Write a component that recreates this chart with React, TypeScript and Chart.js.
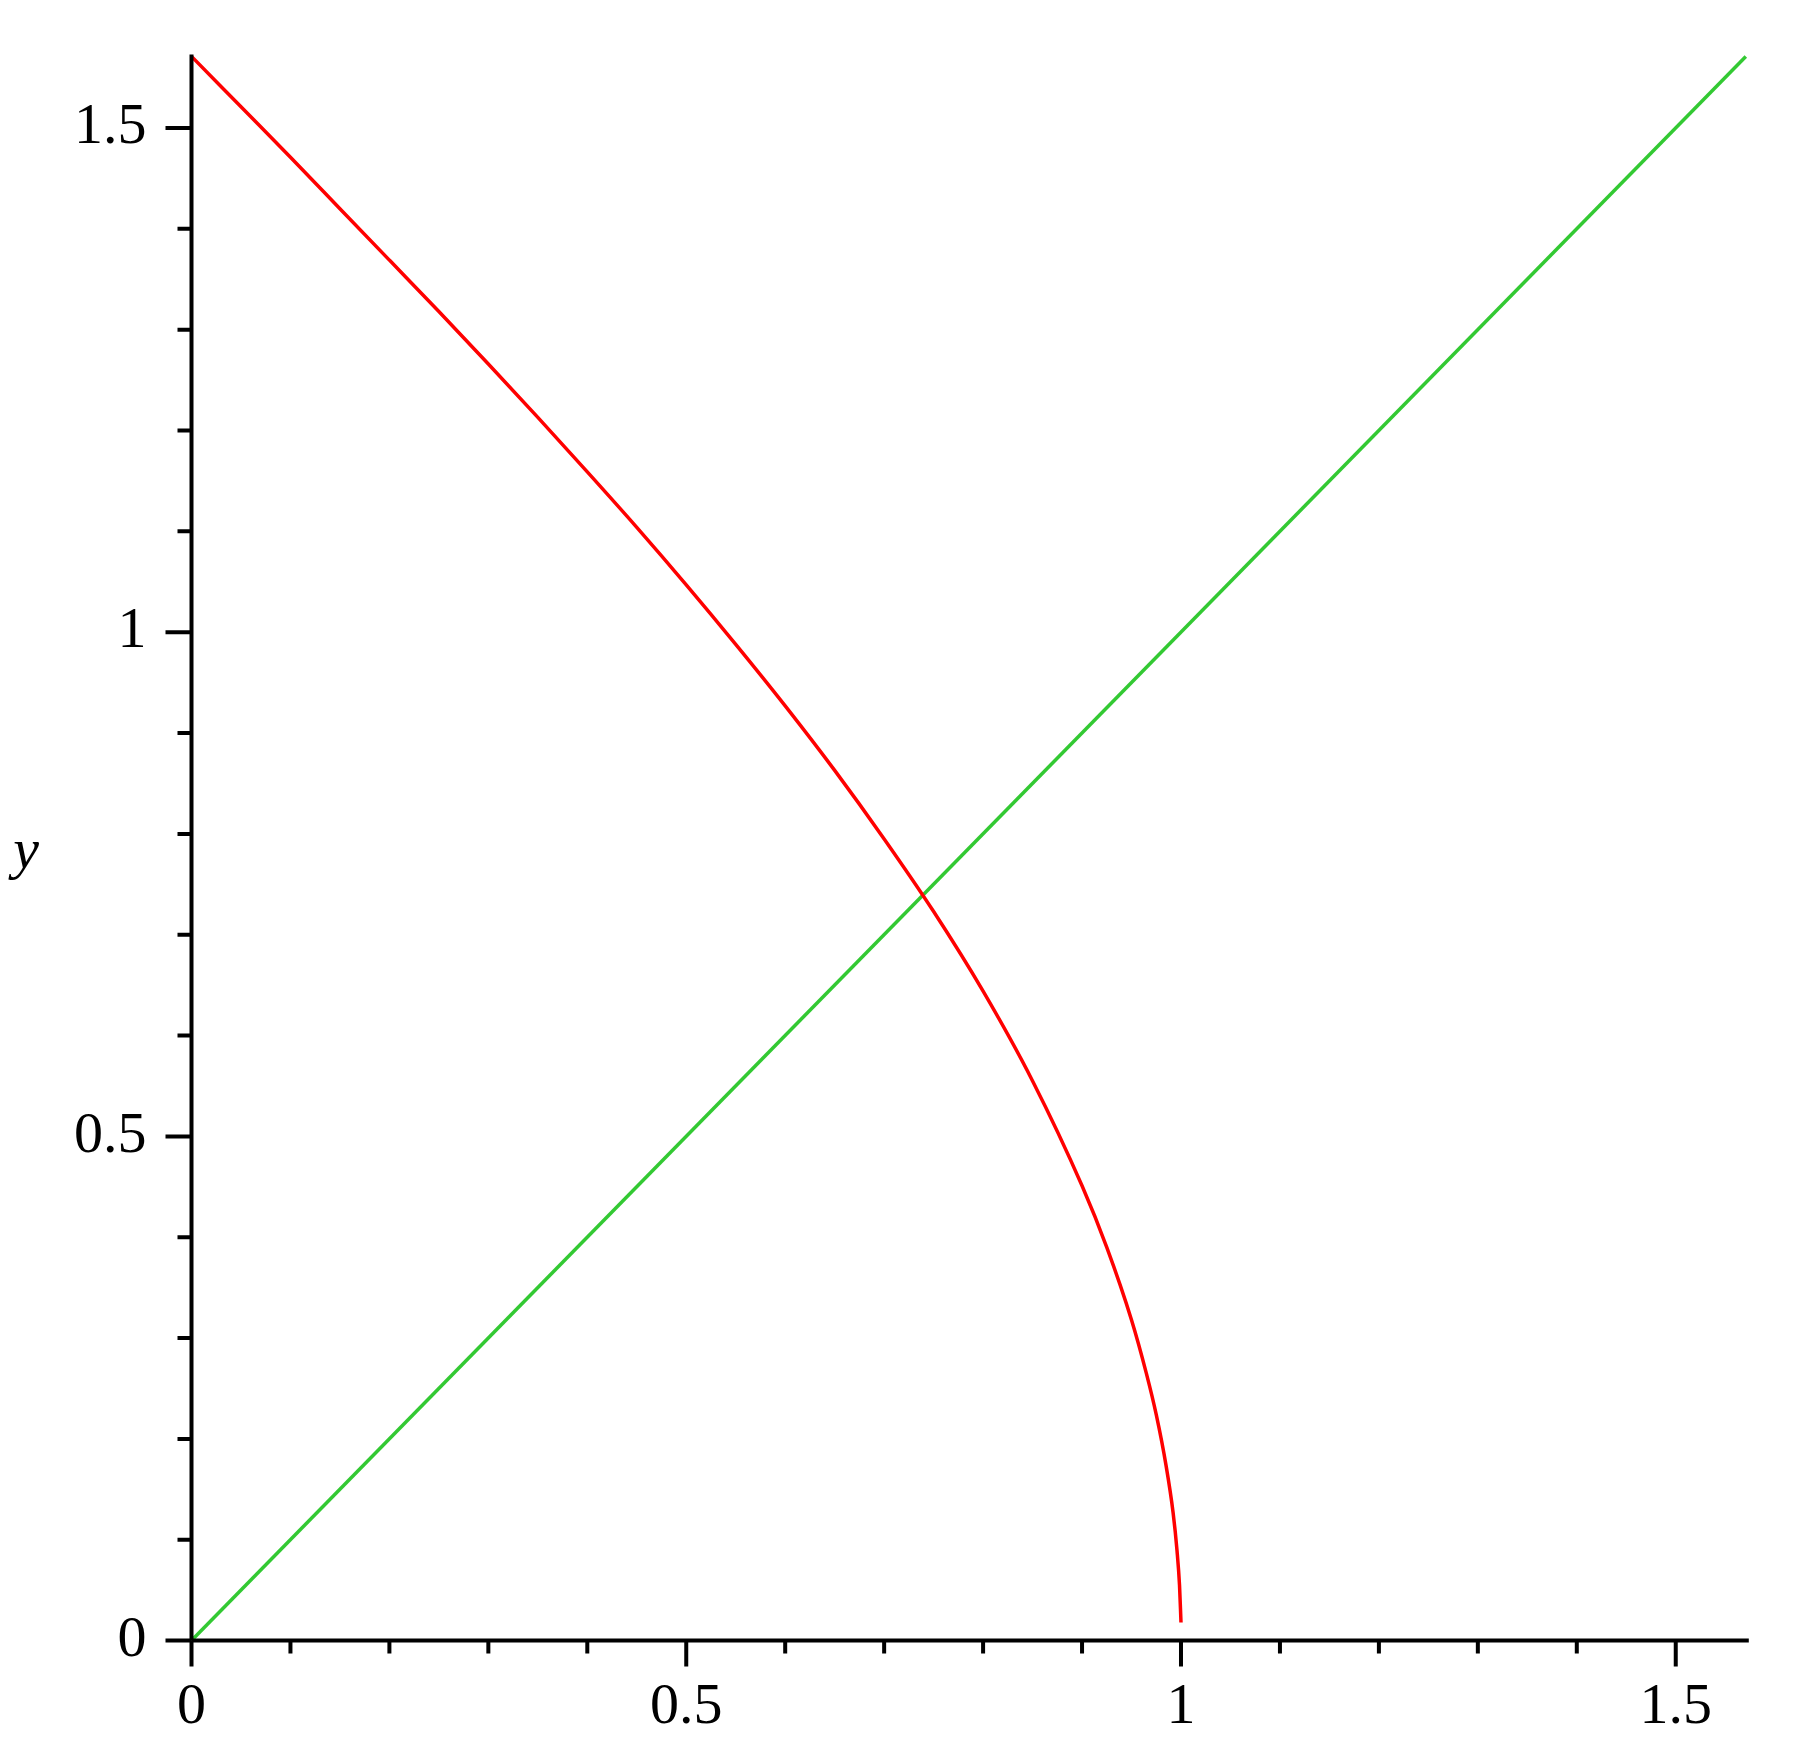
import React, { useEffect, useRef } from "react";
import { Chart, registerables } from "chart.js";

Chart.register(...registerables);

// ---- data ----
const redX = [0, 0.05, 0.1, 0.15, 0.2, 0.25, 0.3, 0.35, 0.4, 0.45, 0.5, 0.55, 0.6, 0.65, 0.7, 0.75, 0.8, 0.85, 0.9, 0.925, 0.95, 0.965, 0.975, 0.985, 0.992, 0.996, 0.9985, 1.0];
const redY = [1.571, 1.521, 1.471, 1.42, 1.369, 1.318, 1.266, 1.213, 1.159, 1.104, 1.047, 0.988, 0.927, 0.863, 0.795, 0.723, 0.644, 0.555, 0.451, 0.39, 0.318, 0.265, 0.224, 0.173, 0.127, 0.089, 0.055, 0.018];
const greenX = [0, 1.5708];
const greenY = [0, 1.5708];

const xMin = 0;
const xMax = 1.5708;
const yMin = 0;
const yMax = 1.5708;
const minorStep = 0.1;
const majorLabels = ["0", "0.5", "1", "1.5"];
const yTitle = "y";

const FONT = "'Liberation Serif', 'Times New Roman', serif";

const isMajor = (v: number) => Math.round(v * 10) % 5 === 0;
const labelFor = (v: number) => {
  if (!isMajor(v)) return "";
  const idx = Math.round(v * 2);
  return majorLabels[idx] ?? "";
};

const axesPlugin = {
  id: "mapleAxes",
  afterDatasetsDraw(chart: any) {
    const { ctx } = chart;
    const xs = chart.scales.x;
    const ys = chart.scales.y;
    const x0 = xs.getPixelForValue(0);
    const y0 = ys.getPixelForValue(0);
    const xEnd = xs.getPixelForValue(xMax);
    const yTop = ys.getPixelForValue(yMax);
    ctx.save();
    ctx.strokeStyle = "#000";
    ctx.lineWidth = 4;
    ctx.lineCap = "butt";
    ctx.beginPath();
    ctx.moveTo(x0, y0);
    ctx.lineTo(xEnd + 3, y0);
    ctx.moveTo(x0, y0);
    ctx.lineTo(x0, yTop - 2);
    ctx.stroke();
    ctx.lineWidth = 4;
    ctx.beginPath();
    xs.ticks.forEach((t: any) => {
      const px = xs.getPixelForValue(t.value);
      const len = isMajor(t.value) ? 26 : 13;
      ctx.moveTo(px, y0);
      ctx.lineTo(px, y0 + len);
    });
    ys.ticks.forEach((t: any) => {
      const py = ys.getPixelForValue(t.value);
      const len = isMajor(t.value) ? 26 : 14;
      ctx.moveTo(x0, py);
      ctx.lineTo(x0 - len, py);
    });
    ctx.stroke();
    ctx.fillStyle = "#000";
    ctx.font = `italic 58px ${FONT}`;
    ctx.textAlign = "center";
    ctx.textBaseline = "alphabetic";
    ctx.fillText(yTitle, 26, 868);
    ctx.restore();
  },
};

export default function App() {
  const ref = useRef<HTMLCanvasElement | null>(null);
  useEffect(() => {
    if (!ref.current) return;
    const chart = new Chart(ref.current, {
      type: "line",
      data: {
        datasets: [
          {
            label: "arccos",
            data: redX.map((x, i) => ({ x, y: redY[i] })),
            borderColor: "#ff0000",
            borderWidth: 3.5,
            pointRadius: 0,
            cubicInterpolationMode: "monotone",
            fill: false,
            clip: false as any,
          },
          {
            label: "identity",
            data: greenX.map((x, i) => ({ x, y: greenY[i] })),
            borderColor: "#33c933",
            borderWidth: 3.5,
            pointRadius: 0,
            fill: false,
            clip: false as any,
          },
        ],
      },
      options: {
        responsive: false,
        animation: false,
        devicePixelRatio: 1,
        layout: { padding: { left: 0, top: 56.6, right: 63.2, bottom: 0 } },
        plugins: { legend: { display: false }, tooltip: { enabled: false } },
        scales: {
          x: {
            type: "linear",
            min: xMin,
            max: xMax,
            grid: { display: false, drawTicks: false },
            border: { display: false },
            ticks: {
              stepSize: minorStep,
              includeBounds: false,
              autoSkip: false,
              maxRotation: 0,
              padding: 32,
              color: "#000",
              font: { family: FONT, size: 58 },
              callback: (v: any) => labelFor(Number(v)),
            },
            afterFit: (s: any) => {
              s.height = 103.4;
              s.paddingLeft = 0;
              s.paddingRight = 0;
            },
          },
          y: {
            type: "linear",
            min: yMin,
            max: yMax,
            grid: { display: false, drawTicks: false },
            border: { display: false },
            ticks: {
              stepSize: minorStep,
              includeBounds: false,
              autoSkip: false,
              padding: 45,
              color: "#000",
              font: { family: FONT, size: 58 },
              callback: (v: any) => labelFor(Number(v)),
            },
            afterFit: (s: any) => {
              s.width = 191.5;
              s.paddingTop = 0;
              s.paddingBottom = 0;
            },
          },
        },
      },
      plugins: [axesPlugin],
    });
    return () => chart.destroy();
  }, []);
  return (
    <div style={{ position: "absolute", left: 0, top: 0, width: 1809, height: 1744, background: "#fff" }}>
      <canvas ref={ref} width={1809} height={1744} style={{ width: 1809, height: 1744, display: "block" }} />
    </div>
  );
}
